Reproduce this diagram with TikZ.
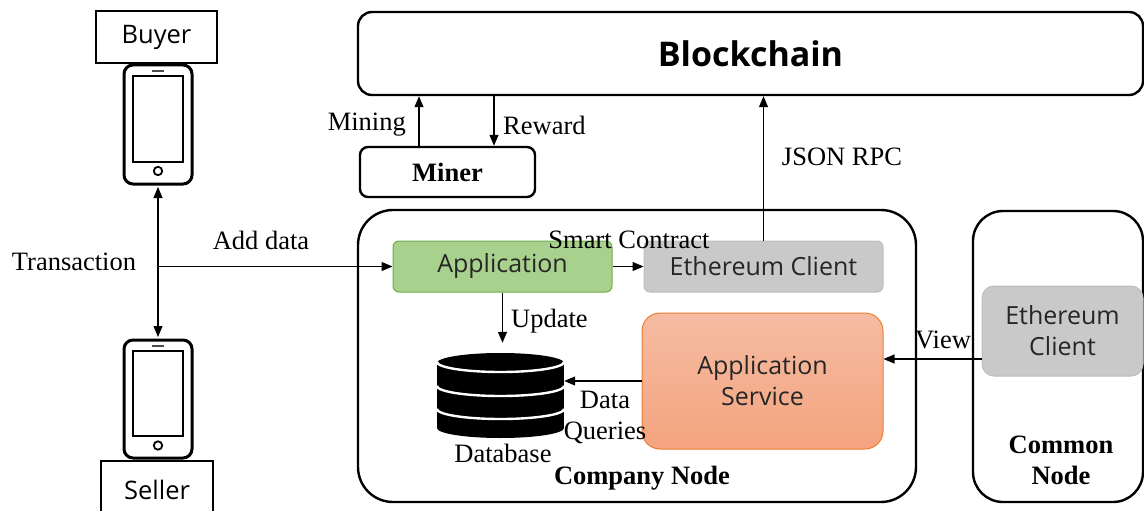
\documentclass[tikz,border=0pt]{standalone}
\usepackage{fontspec}
\setmainfont{Liberation Serif}
\newfontfamily\uifont{Open Sans}
\usetikzlibrary{arrows.meta}
\definecolor{appfill}{HTML}{A9D18E}
\definecolor{appline}{HTML}{70AD47}
\definecolor{ethfill}{HTML}{C9C9C9}
\definecolor{ethline}{HTML}{BDBDBD}
\definecolor{svctop}{HTML}{F5BCA3}
\definecolor{svcbot}{HTML}{F4A47E}
\definecolor{svcline}{HTML}{ED7D31}
\begin{document}
\begin{tikzpicture}[x=1pt, y=-1pt,
    >={Triangle[length=11pt,width=9pt]},
    frame/.style={draw, line width=2.4pt, rounded corners=#1, inner sep=0pt},
    tag/.style={draw, line width=2pt, inner sep=0pt, font=\uifont\fontsize{25.5}{29}\selectfont},
    phone/.style={draw, line width=3pt, rounded corners=9pt, minimum width=68pt, inner sep=0pt},
    flat/.style={draw, line width=1pt, rounded corners=#1, inner sep=0pt, text=black!85, font=\uifont\fontsize{25}{29}\selectfont},
    lbl/.style={inner sep=0pt, font=\fontsize{26.5}{30}\selectfont},
    blbl/.style={inner sep=0pt, align=center, font=\bfseries\fontsize{26.5}{31}\selectfont},
    link/.style={line width=1.1pt}]
    \useasboundingbox (0,0) rectangle (1144,511);
    % big boxes
    \node[frame=14pt, minimum width=785pt, minimum height=83pt, font=\uifont\bfseries\fontsize{34}{38}\selectfont] (chain) at (750.5,53.5) {Blockchain};
    \node[frame=8pt, minimum width=175pt, minimum height=50pt, font=\bfseries\fontsize{26.5}{30}\selectfont] (miner) at (447.5,172) {Miner};
    \node[frame=35pt, minimum width=558pt, minimum height=292pt] (company) at (637,356) {};
    \node[frame=30pt, minimum width=170pt, minimum height=291pt] (common) at (1058,356.5) {};
    %
    \node[flat=6pt, fill=appfill, draw=appline, minimum width=219pt, minimum height=51pt] (app) at (502.5,266.5) {Application};
    \node[flat=6pt, fill=ethfill, draw=ethline, minimum width=239pt, minimum height=51pt] (eth) at (763.5,266.5) {Ethereum Client};
    \node[flat=18pt, top color=svctop, bottom color=svcbot, draw=svcline, minimum width=241pt, minimum height=136pt, align=center] (svc) at (762.5,381) {Application\\[2pt]Service};
    \node[flat=12pt, fill=ethfill, draw=ethline, minimum width=161pt, minimum height=90pt, align=center] (ceth) at (1062.5,331) {Ethereum\\[2pt]Client};
    %
    % buyer and seller
    \node[tag, minimum width=121pt, minimum height=52pt] (buyer) at (156.5,37) {Buyer};
    \node[tag, minimum width=112pt, minimum height=58pt] (seller) at (157,490) {Seller};
    \node[phone, minimum height=119pt] (bphone) at (158,124.5) {};
    \node[phone, minimum height=118pt] (sphone) at (158,399) {};
    \foreach \p in {bphone,sphone} {
      \begin{scope}[shift={(\p.center)}]
        \draw[line width=2pt] (-25,-48) rectangle (25,37);
        \draw[line width=2pt, black!70] (-6,-53.5) -- (6,-53.5);
        \draw[line width=1.8pt] (0,46.5) circle (4.2);
      \end{scope}
    }
    %
    % database
    \node[minimum width=127pt, minimum height=85pt, inner sep=0pt] (db) at (500.5,395.5) {};
    \begin{scope}[shift={(db.center)}]
      \fill (-63.5,-32.5) rectangle (63.5,32.5);
      \fill (0,-32.5) ellipse [x radius=63.5, y radius=10];
      \fill (0,32.5) ellipse [x radius=63.5, y radius=10];
      \foreach \y in {-33.5,-9.5,13.5}
        \draw[white, line width=2.4pt] (-63.5,\y) arc[start angle=180, end angle=0, x radius=63.5, y radius=10];
    \end{scope}
    %
    % connectors
    \coordinate (mineX) at (419,0);
    \coordinate (rewX) at (494,0);
    \coordinate (viewY) at (0,359);
    \coordinate (junc) at (bphone.south |- app.west);
    \draw[link,->] (miner.north -| mineX) -- (chain.south -| mineX);
    \draw[link,->] (chain.south -| rewX) -- (miner.north -| rewX);
    \draw[link,->] (eth.north) -- (chain.south -| eth.north);
    \draw[link,<->, shorten <=1.5pt, shorten >=1.5pt] (bphone.south) -- (sphone.north);
    \draw[link,->] (junc) -- (app.west);
    \draw[link,->] (app.east) -- (eth.west);
    \draw[link,->] (app.south) -- ([yshift=10pt]app.south |- db.north);
    \draw[link,->] (svc.west) -- (db.east |- svc.west);
    \draw[link,->] (ceth.west |- viewY) -- (svc.east |- viewY);
    %
    % labels
    \node[lbl] (ltrans) at (74,262) {Transaction};
    \node[lbl] (ladd) at (261,240) {Add data};
    \node[lbl, anchor=east] (lmine) at (406,125) {Mining};
    \node[lbl, anchor=west] (lrew) at (503,125) {Reward};
    \node[lbl] (ljson) at (842,157) {JSON RPC};
    \node[lbl] (lsmart) at (629,240) {Smart Contract};
    \node[lbl, anchor=west] (lupd) at (511,321) {Update};
    \node[lbl, align=center, font=\fontsize{26.5}{31}\selectfont] (lquery) at (605,417) {Data\\Queries};
    \node[lbl] (ldb) at (503,453) {Database};
    \node[lbl] (lview) at (943,340) {View};
    \node[blbl] (lcomp) at (642,478) {Company Node};
    \node[blbl] (lcommon) at (1061,460) {Common\\Node};
\end{tikzpicture}
\end{document}
